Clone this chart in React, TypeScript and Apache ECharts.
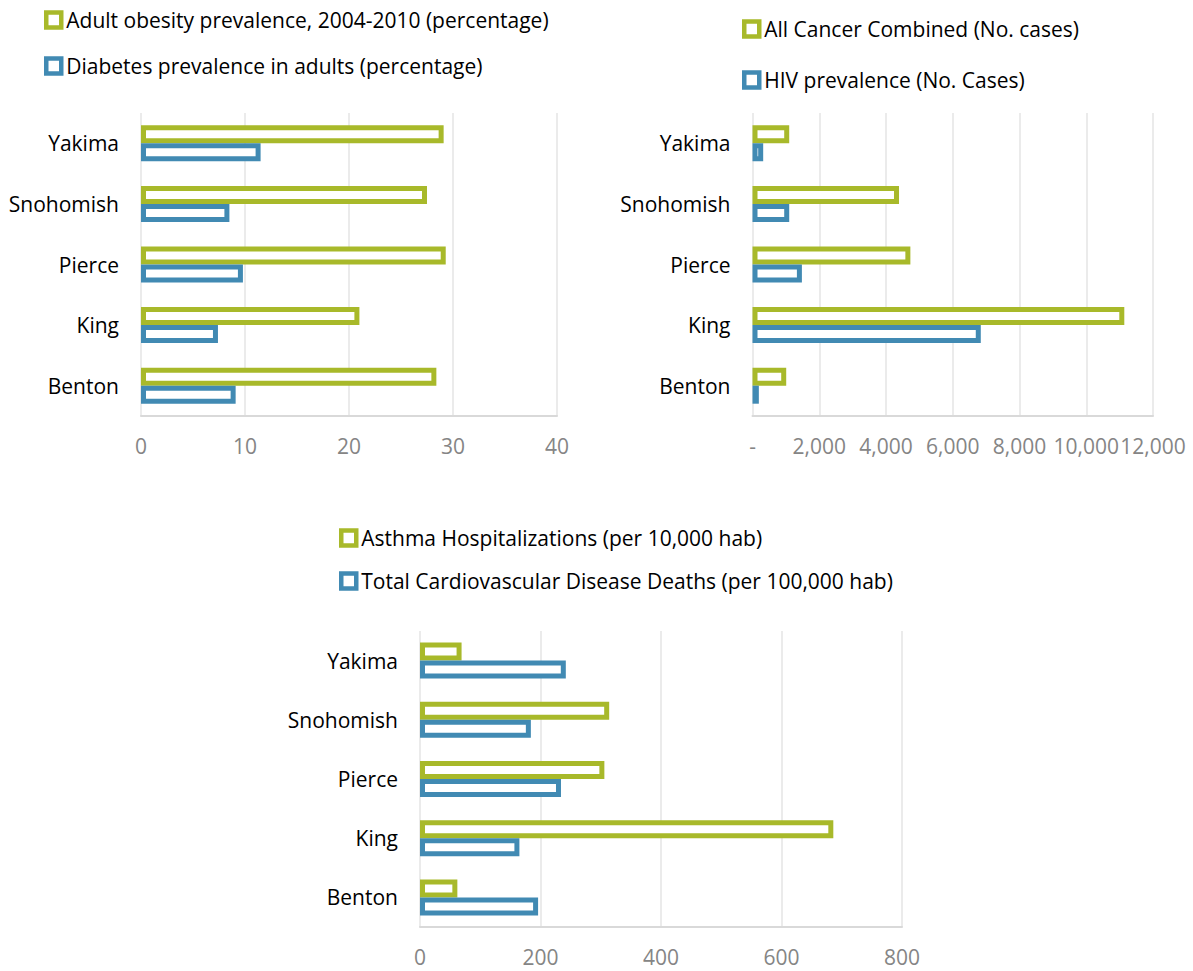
import React, { useEffect, useRef } from "react";
import * as echarts from "echarts";

const categories = ["Benton", "King", "Pierce", "Snohomish", "Yakima"];

const obesityName = "Adult obesity prevalence, 2004-2010 (percentage)";
const diabetesName = "Diabetes prevalence in adults (percentage)";
const obesity = [28.4, 21.0, 29.3, 27.5, 29.1];
const diabetes = [9.1, 7.4, 9.8, 8.5, 11.5];

const cancerName = "All Cancer Combined (No. cases)";
const hivName = "HIV prevalence (No. Cases)";
const cancer = [1010, 11140, 4730, 4390, 1100];
const hiv = [190, 6840, 1480, 1100, 320];

const asthmaName = "Asthma Hospitalizations (per 10,000 hab)";
const cardioName = "Total Cardiovascular Disease Deaths (per 100,000 hab)";
const asthma = [62, 686, 306, 314, 69];
const cardio = [196, 165, 234, 184, 242];

const GREEN = "#A8B92A";
const BLUE = "#418AB3";
const FONT = "Open Sans";
const FS = 21;
const LFS = 21;

function legendItem(name: string, color: string, left: number, cy: number) {
  return {
    left,
    top: cy - 12,
    padding: 0,
    orient: "vertical",
    selectedMode: false,
    icon: "rect",
    itemWidth: 15,
    itemHeight: 15,
    textStyle: { fontFamily: FONT, fontSize: LFS, color: "#000", lineHeight: 24 },
    data: [
      {
        name,
        itemStyle: { color: "#fff", borderColor: color, borderWidth: 4.5 },
      },
    ],
  };
}

function barSeries(name: string, data: number[], color: string, idx: number) {
  return {
    name,
    type: "bar",
    xAxisIndex: idx,
    yAxisIndex: idx,
    data,
    barWidth: 18,
    barGap: "0%",
    itemStyle: { color: "#fff", borderColor: color, borderWidth: 5 },
  };
}

function valueAxis(idx: number, max: number, interval: number, fmt?: (v: number) => string) {
  return {
    type: "value",
    gridIndex: idx,
    min: 0,
    max,
    interval,
    axisLine: { show: true, lineStyle: { color: "#D9D9D9", width: 2 } },
    axisTick: { show: false },
    splitLine: { show: true, lineStyle: { color: "#EBEBEB", width: 2 } },
    axisLabel: {
      fontFamily: FONT,
      fontSize: FS,
      color: "#858585",
      margin: 19,
      formatter: fmt,
    },
  };
}

function catAxis(idx: number) {
  return {
    type: "category",
    gridIndex: idx,
    data: categories,
    axisLine: { show: false },
    axisTick: { show: false },
    axisLabel: { fontFamily: FONT, fontSize: FS, color: "#000", margin: 22 },
  };
}

export default function App() {
  const ref = useRef<HTMLDivElement>(null);
  useEffect(() => {
    if (!ref.current) return;
    const chart = echarts.init(ref.current, undefined, { renderer: "svg" });
    chart.setOption({
      animation: false,
      backgroundColor: "#fff",
      legend: [
        legendItem(obesityName, GREEN, 44, 20),
        legendItem(diabetesName, BLUE, 44, 66),
        legendItem(cancerName, GREEN, 742, 29),
        legendItem(hivName, BLUE, 742, 80),
        legendItem(asthmaName, GREEN, 339, 538),
        legendItem(cardioName, BLUE, 339, 581),
      ],
      grid: [
        { left: 141, right: 1193 - 557, top: 113, bottom: 971 - 416 },
        { left: 752.5, right: 1193 - 1153, top: 113, bottom: 971 - 416 },
        { left: 420, right: 1193 - 902, top: 631, bottom: 971 - 927 },
      ],
      xAxis: [
        valueAxis(0, 40, 10),
        valueAxis(1, 12000, 2000, (v: number) => (v === 0 ? "-" : v.toLocaleString("en-US"))),
        valueAxis(2, 800, 200),
      ],
      yAxis: [catAxis(0), catAxis(1), catAxis(2)],
      series: [
        barSeries(obesityName, obesity, GREEN, 0),
        barSeries(diabetesName, diabetes, BLUE, 0),
        barSeries(cancerName, cancer, GREEN, 1),
        barSeries(hivName, hiv, BLUE, 1),
        barSeries(asthmaName, asthma, GREEN, 2),
        barSeries(cardioName, cardio, BLUE, 2),
      ],
    });
    return () => chart.dispose();
  }, []);
  return (
    <div
      ref={ref}
      style={{ position: "absolute", left: 0, top: 0, width: 1193, height: 971 }}
    />
  );
}
